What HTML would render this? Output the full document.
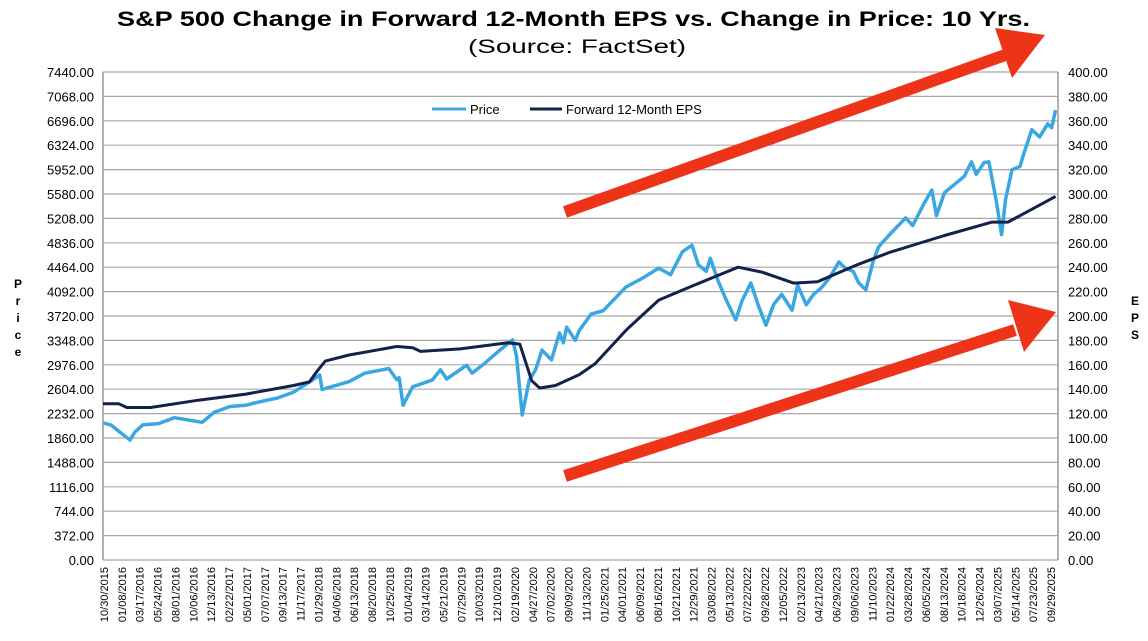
<!DOCTYPE html>
<html><head><meta charset="utf-8"><style>
body{margin:0;background:#fff;width:1148px;height:636px;overflow:hidden;font-family:"Liberation Sans",Arial,sans-serif}
svg text{font-family:"Liberation Sans",Arial,sans-serif}
</style></head><body>
<svg id="chart" width="1148" height="636" viewBox="0 0 1148 636" xmlns="http://www.w3.org/2000/svg">
<text x="117" y="26" font-size="21" font-weight="bold" textLength="913" lengthAdjust="spacingAndGlyphs">S&amp;P 500 Change in Forward 12-Month EPS vs. Change in Price: 10 Yrs.</text>
<text x="468" y="53" font-size="19" textLength="218" lengthAdjust="spacingAndGlyphs">(Source: FactSet)</text>
<g id="grid"></g>
<g id="ylabels"></g>
<g id="y2labels"></g>
<g id="xlabels"></g>
<g id="series"></g>
<g font-size="12" font-weight="bold" text-anchor="middle">
<text x="18" y="288">P</text><text x="18" y="305">r</text><text x="18" y="322">i</text><text x="18" y="339">c</text><text x="18" y="356">e</text></g>
<g font-size="12" font-weight="bold" text-anchor="middle">
<text x="1135" y="305">E</text><text x="1135" y="322">P</text><text x="1135" y="339">S</text></g>
<g font-size="13">
<line x1="432" y1="109" x2="466" y2="109" stroke="#3aa7e3" stroke-width="3"/><text x="470" y="114">Price</text>
<line x1="530" y1="109" x2="562" y2="109" stroke="#14224a" stroke-width="3"/><text x="566" y="114">Forward 12-Month EPS</text>
</g>
<g fill="#ee3418">
<line x1="565" y1="212" x2="1008" y2="54" stroke="#ee3418" stroke-width="12"/>
<polygon points="1045,35 995,28 1012,78"/>
<line x1="565" y1="476" x2="1015" y2="330" stroke="#ee3418" stroke-width="12"/>
<polygon points="1056,312 1008,300 1024,352"/>
</g>
</svg>
<script>
const yTicks=[0,372,744,1116,1488,1860,2232,2604,2976,3348,3720,4092,4464,4836,5208,5580,5952,6324,6696,7068,7440];
const y2Ticks=[0,20,40,60,80,100,120,140,160,180,200,220,240,260,280,300,320,340,360,380,400];
const xLabels=["10/30/2015","01/08/2016","03/17/2016","05/24/2016","08/01/2016","10/06/2016","12/13/2016","02/22/2017","05/01/2017","07/07/2017","09/13/2017","11/17/2017","01/29/2018","04/06/2018","06/13/2018","08/20/2018","10/25/2018","01/04/2019","03/14/2019","05/21/2019","07/29/2019","10/03/2019","12/10/2019","02/19/2020","04/27/2020","07/02/2020","09/09/2020","11/13/2020","01/25/2021","04/01/2021","06/09/2021","08/16/2021","10/21/2021","12/29/2021","03/08/2022","05/13/2022","07/22/2022","09/28/2022","12/05/2022","02/13/2023","04/21/2023","06/29/2023","09/06/2023","11/10/2023","01/22/2024","03/28/2024","06/05/2024","08/13/2024","10/18/2024","12/26/2024","03/07/2025","05/14/2025","07/23/2025","09/29/2025"];
const priceMonths=[0,1,2,3.4,4,5,7,9,11,12.5,14,16,18,20,22,24,26.4,27.3,27.6,29,31,33,35.2,36,37,37.3,37.8,39,41.5,42.5,43.3,45.8,46.5,48,50,51.6,52.1,52.8,53.7,54.5,55.3,56.5,57.5,58,58.4,59.5,60,61.5,63,65.9,68,70,71.5,73,74.2,75,76,76.5,77.5,78.5,79.7,80.5,81.6,82.5,83.5,84.5,85.5,86.8,87.5,88.6,89.5,90.5,91.5,92.7,93.5,94.5,95.2,96.1,97,97.7,99,101.1,102,103.5,104.4,105,106,107.5,108.5,109.4,110,111,111.6,112.5,113.2,113.7,114.5,115.5,116,117,118,119,119.5,120];
const priceValues=[2090,2060,1960,1830,1950,2060,2080,2170,2130,2100,2250,2340,2360,2420,2470,2560,2745,2820,2600,2650,2720,2850,2900,2920,2750,2780,2360,2640,2745,2900,2760,2970,2850,2990,3200,3355,3100,2210,2745,2900,3200,3050,3460,3310,3550,3350,3500,3750,3800,4163,4300,4450,4350,4700,4800,4500,4400,4600,4250,3965,3660,3950,4224,3900,3580,3900,4050,3810,4190,3890,4050,4150,4300,4545,4450,4400,4225,4120,4550,4773,4950,5215,5100,5450,5640,5250,5600,5750,5850,6070,5880,6060,6070,5490,4960,5500,5950,6000,6200,6560,6450,6650,6590,6860];
const epsMonths=[0,2,3,6,12,18,24,26,27,28,31,37,39,40,45,51,52.5,54,55,57,60,62,66,70,74,80,83,87,90,95,99,106,112,114,120];
const epsValues=[128,128,125,125,131,136,143,146,155,163,168,175,174,171,173,178,177,147,141,143,152,161,189,213,224,240,236,227,228,242,252,266,277,277,298];
const NS="http://www.w3.org/2000/svg";
const L=103,R=1058,T=72,B=560;
const xs=m=>L+m/120.3*(R-L);
const yL=v=>B-v/7440*(B-T);
const yR=v=>B-v/400*(B-T);
function mk(tag,attrs,parent,text){const e=document.createElementNS(NS,tag);for(const k in attrs)e.setAttribute(k,attrs[k]);if(text!==undefined)e.textContent=text;parent.appendChild(e);return e;}
const grid=document.getElementById('grid'),yl=document.getElementById('ylabels'),yl2=document.getElementById('y2labels'),xl=document.getElementById('xlabels'),ser=document.getElementById('series');
yTicks.forEach(v=>{const y=yL(v);
const g=mk('line',{x1:L,x2:R,y1:y,y2:y,stroke:'#a8a8a8','stroke-width':1.2},grid);


const t=mk('text',{x:94,y:y+5,'text-anchor':'end','font-size':13},yl,v.toFixed(2));

});
y2Ticks.forEach(v=>{const y=yR(v);
const t=mk('text',{x:1068,y:y+5,'font-size':13},yl2,v.toFixed(2));

});
mk('line',{x1:L,x2:L,y1:T,y2:B,stroke:'#999','stroke-width':1.5},grid);
mk('line',{x1:R,x2:R,y1:T,y2:B,stroke:'#999','stroke-width':1.5},grid);
const step=(1051-104)/(xLabels.length-1);
xLabels.forEach((s,i)=>{const x=104+i*step;
const t=mk('text',{x:0,y:0,'font-size':11,'text-anchor':'end',transform:`translate(${x+4},567) rotate(-90)`},xl,s);

});
const pp=priceMonths.map((m,i)=>xs(m).toFixed(1)+','+yL(priceValues[i]).toFixed(1)).join(' ');
const pl=mk('polyline',{points:pp,fill:'none',stroke:'#3aa7e3','stroke-width':3.5,'stroke-linejoin':'round'},ser);


const ep=epsMonths.map((m,i)=>xs(m).toFixed(1)+','+yR(epsValues[i]).toFixed(1)).join(' ');
const el=mk('polyline',{points:ep,fill:'none',stroke:'#14224a','stroke-width':3,'stroke-linejoin':'round'},ser);


</script>
</body></html>
